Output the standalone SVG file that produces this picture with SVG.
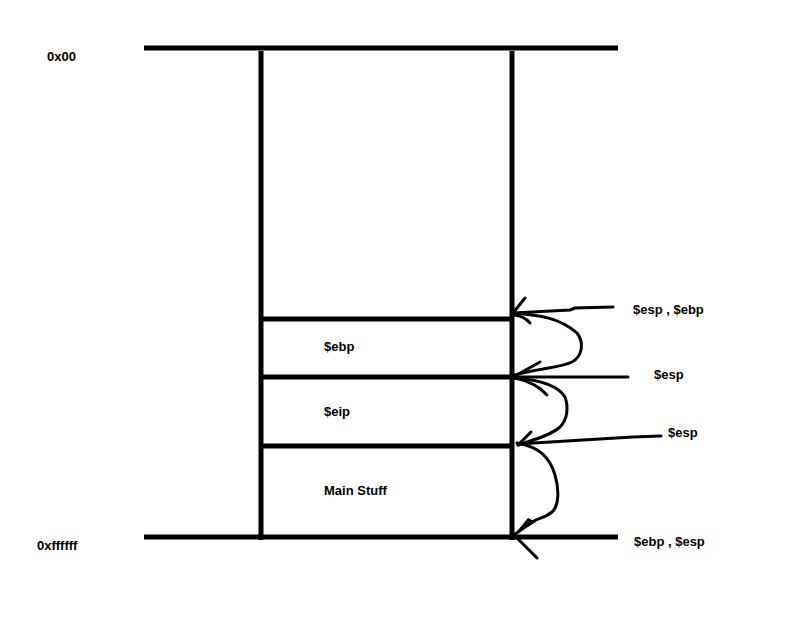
<svg xmlns="http://www.w3.org/2000/svg" width="788" height="622" viewBox="0 0 788 622">
<style>
.frame{stroke:#000;stroke-width:5;fill:none;stroke-linecap:butt}
.pen{stroke:#000;stroke-width:3;fill:none;stroke-linecap:round;stroke-linejoin:round}
.lbl{font-family:"Liberation Sans",Arial,sans-serif;font-weight:bold;font-size:13px;fill:#000}
</style>
<rect width="788" height="622" fill="#fff"/>
<g id="stack">
<line class="frame" x1="144" y1="48" x2="618" y2="48"/>
<line class="frame" x1="144" y1="537" x2="618" y2="537"/>
<line class="frame" x1="261" y1="51" x2="261" y2="540"/>
<line class="frame" x1="512" y1="51" x2="512" y2="540"/>
</g>
<g id="slot-ebp">
<line class="frame" x1="261" y1="319" x2="512" y2="319"/>
<text class="lbl" x="324" y="351">$ebp</text>
</g>
<g id="slot-eip">
<line class="frame" x1="261" y1="377" x2="512" y2="377"/>
<text class="lbl" x="324" y="416">$eip</text>
</g>
<g id="slot-main">
<line class="frame" x1="261" y1="446" x2="512" y2="446"/>
<text class="lbl" x="324" y="495">Main Stuff</text>
</g>
<g id="addr-labels">
<text class="lbl" x="47" y="61">0x00</text>
<text class="lbl" x="37" y="550">0xffffff</text>
</g>
<g id="pointer-labels">
<text class="lbl" x="633" y="314">$esp , $ebp</text>
<text class="lbl" x="654" y="379">$esp</text>
<text class="lbl" x="668" y="437">$esp</text>
<text class="lbl" x="634" y="546">$ebp , $esp</text>
</g>
<g id="connectors">
<path class="pen" d="M613,307 L575,308 L570,310 L513,313"/>
<path class="pen" d="M513,313 L525,298"/>
<path class="pen" d="M514,315 Q524,316 530,323"/>
<path class="pen" d="M513,313 C540,315 560,318 577,333 C584,342 583,356 572,362 C560,368 540,368 515,375"/>
<path class="pen" d="M515,376 L540,362"/>
<path class="pen" d="M628,377 L515,377"/>
<path class="pen" d="M515,378 Q535,382 547,395"/>
<path class="pen" d="M515,378 C540,380 558,385 565,397 C569,408 567,420 560,427 C552,434 540,438 518,445"/>
<path class="pen" d="M518,445 L531,432"/>
<path class="pen" d="M661,436 L633,437 L583,440 L518,444"/>
<path class="pen" d="M517,443 C540,447 550,458 555,475 C560,492 558,507 552,512 C545,518 538,518 532,522 L514,535"/>
<path class="pen" d="M514,535 L537,558"/>
<path d="M514,535 L528,518 L536,522 Z" fill="#000"/>
</g>
</svg>
